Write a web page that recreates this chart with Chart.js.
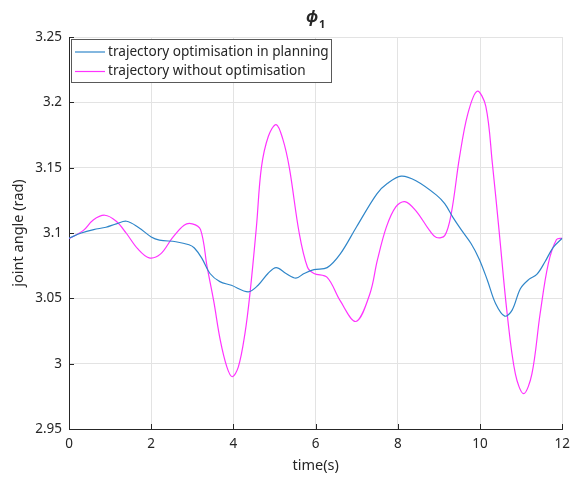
<!DOCTYPE html>
<html>
<head>
<meta charset="utf-8">
<script src="https://cdn.jsdelivr.net/npm/chart.js@4/dist/chart.umd.min.js"></script>
<style>
  body { margin: 0; background: #fff; }
  canvas { display: block; }
</style>
</head>
<body>
<canvas id="jointGraph" width="577" height="484"></canvas>
<script>
// joint angle phi_1 over time, with and without trajectory optimisation
const timeOpt = [0, 0.3, 0.6, 0.9, 1.15, 1.4, 1.7, 2.0, 2.2, 2.6, 2.92, 3.05, 3.23, 3.43, 3.67, 3.95,
  4.36, 4.6, 4.84, 5.04, 5.28, 5.52, 5.72, 5.96, 6.28, 6.6, 7.0, 7.49, 7.75, 8.08, 8.44, 8.94, 9.14,
  9.34, 9.54, 9.78, 9.98, 10.18, 10.38, 10.6, 10.78, 10.98, 11.18, 11.38, 11.58, 11.78, 12];
const angleOpt = [3.096, 3.100, 3.1026, 3.1044, 3.107, 3.109, 3.104, 3.097, 3.0946, 3.0933, 3.091, 3.0885,
  3.0808, 3.069, 3.0628, 3.060, 3.055, 3.060, 3.069, 3.0735, 3.069, 3.0655, 3.069, 3.072, 3.0735, 3.084,
  3.105, 3.130, 3.138, 3.1435, 3.140, 3.129, 3.1224, 3.112, 3.1026, 3.092, 3.080, 3.0637, 3.0459, 3.0364,
  3.041, 3.0574, 3.0643, 3.0683, 3.078, 3.089, 3.096];

const timeRaw = [0, 0.35, 0.59, 0.87, 1.15, 1.39, 1.67, 1.95, 2.23, 2.51, 2.8, 3.0, 3.2, 3.36, 3.52, 3.68,
  3.84, 3.97, 4.12, 4.28, 4.4, 4.56, 4.68, 4.85, 5.04, 5.2, 5.36, 5.6, 5.8, 5.96, 6.28, 6.6, 6.98, 7.32,
  7.5, 7.72, 7.95, 8.17, 8.44, 8.77, 8.94, 9.14, 9.3, 9.5, 9.7, 9.93, 10.14, 10.3, 10.46, 10.66, 10.86,
  11.06, 11.26, 11.46, 11.66, 11.86, 12];
const angleRaw = [3.0957, 3.102, 3.110, 3.1136, 3.109, 3.100, 3.088, 3.081, 3.084, 3.096, 3.106, 3.107,
  3.1026, 3.074, 3.048, 3.018, 2.9975, 2.990, 2.9975, 3.023, 3.053, 3.105, 3.150, 3.174, 3.183, 3.172,
  3.150, 3.100, 3.074, 3.069, 3.066, 3.048, 3.0323, 3.0535, 3.079, 3.1045, 3.120, 3.124, 3.117, 3.102,
  3.0966, 3.098, 3.115, 3.158, 3.191, 3.2085, 3.197, 3.153, 3.1026, 3.038, 2.992, 2.977, 2.992, 3.038,
  3.0765, 3.095, 3.096];

const seriesLabels = ['trajectory optimisation in planning', 'trajectory without optimisation'];
const seriesColors = ['#2f86c9', '#ff33ff'];
const xTicks = [0, 2, 4, 6, 8, 10, 12];
const yTicks = [2.95, 3, 3.05, 3.1, 3.15, 3.2, 3.25];

const FONT = '"Noto Sans", "Open Sans", sans-serif';
const INK = '#262626';
const GRID = '#e3e3e3';

const toPoints = (ts, vs) => ts.map((t, i) => ({ x: t, y: vs[i] }));

// title, inward ticks and the boxed legend
const decorations = {
  id: 'decorations',
  afterDraw(chart) {
    const ctx = chart.ctx;
    const { left, right, top, bottom } = chart.chartArea;
    const xs = chart.scales.x, ys = chart.scales.y;

    ctx.save();
    ctx.strokeStyle = INK;
    ctx.lineWidth = 1;
    ctx.beginPath();
    xTicks.forEach(v => {
      const px = Math.round(xs.getPixelForValue(v)) + 0.5;
      ctx.moveTo(px, bottom);
      ctx.lineTo(px, bottom - 5);
    });
    yTicks.forEach(v => {
      const py = Math.round(ys.getPixelForValue(v)) + 0.5;
      ctx.moveTo(left, py);
      ctx.lineTo(left + 5, py);
    });
    ctx.stroke();

    // title phi_1
    const cx = (left + right) / 2;
    ctx.fillStyle = INK;
    ctx.textBaseline = 'alphabetic';
    ctx.font = 'italic bold 16px ' + FONT;
    const w1 = ctx.measureText('ϕ').width;
    ctx.font = 'bold 11px ' + FONT;
    const w2 = ctx.measureText('1').width;
    const x0 = cx - (w1 + w2 + 1) / 2;
    ctx.font = 'italic bold 16px ' + FONT;
    ctx.textAlign = 'left';
    ctx.fillText('ϕ', x0, 22);
    ctx.font = 'bold 11px ' + FONT;
    ctx.fillText('1', x0 + w1 + 1, 28);

    // legend
    const lx = left + 2.5, ly = top + 2.5, lw = 260, lh = 43;
    ctx.fillStyle = '#fff';
    ctx.fillRect(lx, ly, lw, lh);
    ctx.strokeStyle = '#595959';
    ctx.strokeRect(lx, ly, lw, lh);
    ctx.font = '13.6px ' + FONT;
    ctx.textBaseline = 'middle';
    seriesLabels.forEach((label, i) => {
      const rowY = top + 15 + i * 19.5;
      ctx.strokeStyle = seriesColors[i];
      ctx.lineWidth = 1.2;
      ctx.beginPath();
      ctx.moveTo(left + 6, rowY);
      ctx.lineTo(left + 36, rowY);
      ctx.stroke();
      ctx.fillStyle = INK;
      ctx.fillText(label, left + 39, rowY);
    });
    ctx.restore();
  }
};

new Chart(document.getElementById('jointGraph').getContext('2d'), {
  type: 'line',
  data: {
    datasets: [
      {
        label: seriesLabels[0],
        data: toPoints(timeOpt, angleOpt),
        borderColor: seriesColors[0],
        borderWidth: 1.2,
        pointRadius: 0,
        fill: false,
        tension: 0.35
      },
      {
        label: seriesLabels[1],
        data: toPoints(timeRaw, angleRaw),
        borderColor: seriesColors[1],
        borderWidth: 1.2,
        pointRadius: 0,
        fill: false,
        tension: 0.35
      }
    ]
  },
  options: {
    responsive: false,
    animation: false,
    layout: { padding: { top: 37, right: 9, left: 0, bottom: 0 } },
    plugins: {
      legend: { display: false },
      tooltip: { enabled: false }
    },
    scales: {
      x: {
        type: 'linear',
        min: 0,
        max: 12,
        afterBuildTicks: s => { s.ticks = xTicks.map(v => ({ value: v })); },
        afterFit: s => { s.height = 55; },
        ticks: { color: INK, padding: 7, font: { family: FONT, size: 13.5 } },
        grid: { color: GRID, drawTicks: false },
        border: { color: INK, width: 1 },
        title: {
          display: true,
          text: 'time(s)',
          color: INK,
          font: { family: FONT, size: 14.5 },
          padding: { bottom: 9 }
        }
      },
      y: {
        type: 'linear',
        min: 2.95,
        max: 3.25,
        afterBuildTicks: s => { s.ticks = yTicks.map(v => ({ value: v })); },
        afterFit: s => { s.width = 69; },
        ticks: {
          color: INK,
          padding: 7,
          font: { family: FONT, size: 13.5 },
          callback: v => String(+v.toFixed(2))
        },
        grid: { color: GRID, drawTicks: false },
        border: { color: INK, width: 1 },
        title: {
          display: true,
          text: 'joint angle (rad)',
          color: INK,
          font: { family: FONT, size: 14.5 },
          padding: { top: 10 }
        }
      }
    }
  },
  plugins: [decorations]
});
</script>
</body>
</html>
